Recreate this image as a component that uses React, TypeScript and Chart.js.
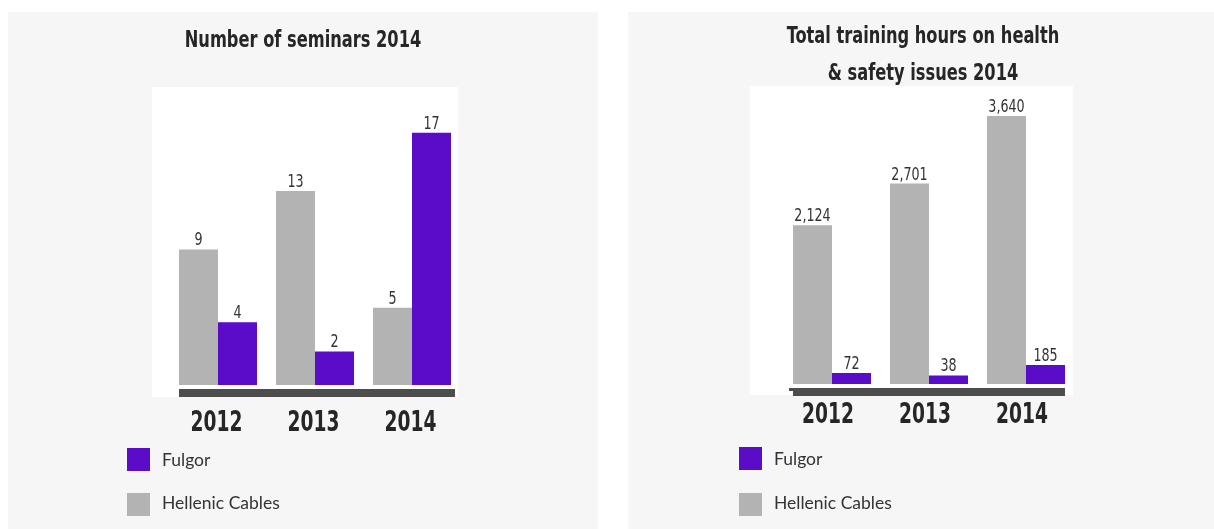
import React, { useEffect, useRef } from "react";
import { Chart, registerables } from "chart.js";

Chart.register(...registerables);

// ---- data ----
const years = ["2012", "2013", "2014"];
const seminarsHellenic = [9, 13, 5];
const seminarsFulgor = [4, 2, 17];
const hoursHellenic = [2124, 2701, 3640];
const hoursFulgor = [72, 38, 185];
const seminarsTitle = ["Number of seminars 2014"];
const hoursTitle = ["Total training hours on health", "& safety issues 2014"];
const seriesNames = { fulgor: "Fulgor", hellenic: "Hellenic Cables" };

// ---- styles ----
const PURPLE = "#5a0cc9";
const GRAY = "#b3b3b3";
const DARK = "#4d4d4d";
const PANEL_BG = "#f6f6f6";
const TEXT_DARK = "#262626";
const TEXT = "#333333";
const NARROW = "'Liberation Sans Narrow', 'DejaVu Sans Condensed', 'DejaVu Sans', sans-serif";
const LEGEND_FONT = "Lato, 'Open Sans', sans-serif";

const PANEL_W = 590;
const PANEL_H = 517;

// horizontal squeeze applied to the condensed display font
const TITLE_SQUEEZE = 0.785;
const YEAR_SQUEEZE = 0.74;
const VALUE_SQUEEZE = 0.83;

type PanelConfig = {
  title: string[];
  titleBaselines: number[];
  hellenic: number[];
  fulgor: number[];
  yMin: number;
  yMax: number;
  padding: { left: number; right: number; top: number; bottom: number };
  box: { left: number; right: number; top: number; bottom: number };
  baseRightExtra: number;
  baseNotch: number;
  yearBaseline: number;
  yearOffset: number;
  legend: { x: number; y: number; gap: number; textX: number };
};

const seminarsPanel: PanelConfig = {
  title: seminarsTitle,
  titleBaselines: [35],
  hellenic: seminarsHellenic,
  fulgor: seminarsFulgor,
  yMin: -0.3,
  yMax: 20,
  padding: { left: 161.5, right: 137.5, top: 77, bottom: 104 },
  box: { left: -17.5, right: -2.5, top: -2, bottom: 12 },
  baseRightExtra: 4,
  baseNotch: 0,
  yearBaseline: 46,
  yearOffset: -1.5,
  legend: { x: 119, y: 436, gap: 45, textX: 154 },
};

const hoursPanel: PanelConfig = {
  title: hoursTitle,
  titleBaselines: [31, 68],
  hellenic: hoursHellenic,
  fulgor: hoursFulgor,
  yMin: -80,
  yMax: 4000,
  padding: { left: 155.5, right: 143.5, top: 78, bottom: 105 },
  box: { left: -33.5, right: -1.5, top: -4, bottom: 11 },
  baseRightExtra: 0,
  baseNotch: 4,
  yearBaseline: 39,
  yearOffset: -4,
  legend: { x: 111, y: 435, gap: 46, textX: 146 },
};

function squeezedText(ctx: CanvasRenderingContext2D, text: string, x: number, y: number, sx: number) {
  ctx.save();
  ctx.translate(x, y);
  ctx.scale(sx, 1);
  ctx.fillText(text, 0, 0);
  ctx.restore();
}

function BarPanel({ cfg, left }: { cfg: PanelConfig; left: number }) {
  const ref = useRef<HTMLCanvasElement | null>(null);

  useEffect(() => {
    if (!ref.current) return;

    const decor = {
      id: "decor",
      beforeDraw(chart: any) {
        const { ctx, chartArea: a } = chart;
        ctx.save();
        ctx.fillStyle = "#ffffff";
        const x0 = a.left + cfg.box.left;
        const x1 = a.right + cfg.box.right;
        const y0 = a.top + cfg.box.top;
        const y1 = a.bottom + cfg.box.bottom;
        ctx.fillRect(x0, y0, x1 - x0, y1 - y0);

        // title
        ctx.fillStyle = TEXT_DARK;
        ctx.font = `bold 23px ${NARROW}`;
        ctx.textAlign = "center";
        ctx.textBaseline = "alphabetic";
        cfg.title.forEach((line, i) => {
          squeezedText(ctx, line, chart.width / 2, cfg.titleBaselines[i], TITLE_SQUEEZE);
        });
        ctx.restore();
      },
      afterDatasetsDraw(chart: any) {
        const { ctx, chartArea: a } = chart;
        ctx.save();

        // dark base strip under the bars
        const first = chart.getDatasetMeta(0).data[0];
        const metaLast = chart.getDatasetMeta(chart.data.datasets.length - 1);
        const last = metaLast.data[metaLast.data.length - 1];
        const bx0 = first.x - first.width / 2;
        const bx1 = last.x + last.width / 2 + cfg.baseRightExtra;
        ctx.fillStyle = DARK;
        ctx.fillRect(bx0, a.bottom + 4, bx1 - bx0, 8);
        if (cfg.baseNotch > 0) {
          ctx.fillRect(bx0 - cfg.baseNotch, a.bottom + 4, cfg.baseNotch, 3);
        }

        // category labels
        const xScale = chart.scales.x;
        ctx.fillStyle = TEXT_DARK;
        ctx.font = `bold 28px ${NARROW}`;
        ctx.textAlign = "center";
        ctx.textBaseline = "alphabetic";
        (chart.data.labels as string[]).forEach((lab, i) => {
          squeezedText(
            ctx,
            lab,
            xScale.getPixelForTick(i) + cfg.yearOffset,
            a.bottom + cfg.yearBaseline,
            YEAR_SQUEEZE
          );
        });

        // value labels
        ctx.font = `17px ${NARROW}`;
        ctx.fillStyle = TEXT;
        chart.data.datasets.forEach((ds: any, di: number) => {
          const meta = chart.getDatasetMeta(di);
          meta.data.forEach((el: any, i: number) => {
            const v = ds.data[i] as number;
            squeezedText(ctx, v.toLocaleString("en-US"), el.x, el.y - 4, VALUE_SQUEEZE);
          });
        });

        // legend (Fulgor first)
        const order = [1, 0];
        ctx.font = `17.5px ${LEGEND_FONT}`;
        ctx.textAlign = "left";
        ctx.textBaseline = "middle";
        order.forEach((di, row) => {
          const ds = chart.data.datasets[di];
          const y = cfg.legend.y + row * cfg.legend.gap;
          ctx.fillStyle = ds.backgroundColor;
          ctx.fillRect(cfg.legend.x, y, 23, 23);
          ctx.fillStyle = TEXT;
          ctx.fillText(ds.label, cfg.legend.textX, y + 12.5 - row * 2);
        });
        ctx.restore();
      },
    };

    const chart = new Chart(ref.current, {
      type: "bar",
      data: {
        labels: years,
        datasets: [
          {
            label: seriesNames.hellenic,
            data: cfg.hellenic,
            backgroundColor: GRAY,
            base: cfg.yMin,
          },
          {
            label: seriesNames.fulgor,
            data: cfg.fulgor,
            backgroundColor: PURPLE,
            base: cfg.yMin,
          },
        ],
      },
      options: {
        animation: false,
        responsive: false,
        layout: { padding: cfg.padding },
        datasets: { bar: { categoryPercentage: 78 / 97, barPercentage: 1 } },
        plugins: {
          legend: { display: false },
          tooltip: { enabled: false },
          title: { display: false },
        },
        scales: {
          x: {
            grid: { display: false, drawTicks: false },
            border: { display: false },
            ticks: { display: false },
            afterFit: (scale: any) => {
              scale.height = 40;
            },
          },
          y: { display: false, min: cfg.yMin, max: cfg.yMax },
        },
      },
      plugins: [decor],
    } as any);

    return () => chart.destroy();
  }, [cfg]);

  return (
    <div
      style={{
        position: "absolute",
        left,
        top: 12,
        width: PANEL_W,
        height: PANEL_H,
        background: PANEL_BG,
      }}
    >
      <canvas ref={ref} width={PANEL_W} height={PANEL_H} style={{ display: "block" }} />
    </div>
  );
}

export default function App() {
  return (
    <div
      style={{
        position: "fixed",
        left: 0,
        top: 0,
        width: 1214,
        height: 529,
        overflow: "hidden",
        background: "#ffffff",
      }}
    >
      <BarPanel cfg={seminarsPanel} left={8} />
      <BarPanel cfg={hoursPanel} left={628} />
    </div>
  );
}
